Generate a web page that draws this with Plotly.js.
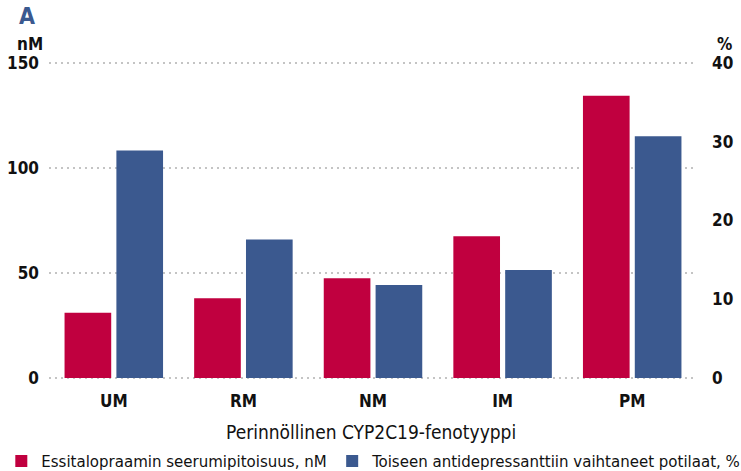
<!DOCTYPE html>
<html>
<head>
<meta charset="utf-8">
<script src="https://cdn.plot.ly/plotly-3.0.1.min.js"></script>
<style>html,body{margin:0;padding:0;background:#fff}#chart{width:741px;height:471px}</style>
</head>
<body>
<div id="chart"></div>
<script>
var categories = ["UM", "RM", "NM", "IM", "PM"];
var serumConc = [31, 38, 47.5, 67.5, 134.5];      // nM, left axis
var switchedPct = [28.9, 17.6, 11.8, 13.7, 30.7]; // %, right axis
var seriesNames = ["Essitalopraamin seerumipitoisuus, nM", "Toiseen antidepressanttiin vaihtaneet potilaat, %"];
var leftTicks = [0, 50, 100, 150];
var rightTicks = [0, 10, 20, 30, 40];

var RED = "#c0003f", BLUE = "#3b598f";
var FONT = "DejaVu Sans Condensed, DejaVu Sans, sans-serif";
var TXT = "#111";

var traces = [
  {type: "bar", x: categories, y: serumConc, name: seriesNames[0], marker: {color: RED}, offsetgroup: "a", yaxis: "y", legend: "legend", hoverinfo: "none"},
  {type: "bar", x: categories, y: switchedPct, name: seriesNames[1], marker: {color: BLUE}, offsetgroup: "b", yaxis: "y2", legend: "legend2", hoverinfo: "none"}
];

var pad = 1;
var legendFont = {family: FONT, size: 16.7, color: TXT};
var tickFont = {family: FONT, size: 17, weight: "bold", color: TXT};
var layout = {
  width: 741, height: 471,
  margin: {l: 49, r: 44, t: 61, b: 91, autoexpand: false},
  paper_bgcolor: "#fff", plot_bgcolor: "#fff",
  barmode: "group", bargap: 0.2, bargroupgap: 0.1,
  font: {family: FONT, color: TXT},
  showlegend: true,
  legend: {orientation: "h", x: -0.0736, xanchor: "left", y: -0.254, yanchor: "middle", font: legendFont, itemwidth: 30, bgcolor: "rgba(0,0,0,0)"},
  legend2: {orientation: "h", x: 0.437, xanchor: "left", y: -0.254, yanchor: "middle", font: legendFont, itemwidth: 30, bgcolor: "rgba(0,0,0,0)"},
  xaxis: {tickvals: categories, ticks: "", showgrid: false, zeroline: false, showline: false,
          tickfont: tickFont, ticklabelstandoff: 9},
  yaxis: {range: [-pad, 150 + pad], tickvals: leftTicks, ticks: "", showgrid: true, gridcolor: "#c4c4c4", griddash: "2px,4px", gridwidth: 2,
          zeroline: false, showline: false, tickfont: tickFont, ticklabelstandoff: 9},
  yaxis2: {range: [-pad * 40 / 150, 40 + pad * 40 / 150], tickvals: rightTicks, overlaying: "y", side: "right", ticks: "", showgrid: false, zeroline: false, showline: false,
           tickfont: tickFont, ticklabelstandoff: 14},
  annotations: [
    {text: "A", xref: "paper", yref: "paper", x: -0.0347, y: 1.1395, xanchor: "center", yanchor: "middle", showarrow: false,
     font: {family: FONT, size: 23, weight: "bold", color: BLUE}},
    {text: "nM", xref: "paper", yref: "paper", x: -0.0293, y: 1.053, xanchor: "center", yanchor: "middle", showarrow: false,
     font: tickFont},
    {text: "%", xref: "paper", yref: "paper", x: 1.043, y: 1.053, xanchor: "center", yanchor: "middle", showarrow: false,
     font: tickFont},
    {text: "Perinnöllinen CYP2C19-fenotyyppi", xref: "paper", yref: "paper", x: 0.497, y: -0.163, xanchor: "center", yanchor: "middle", showarrow: false,
     font: {family: FONT, size: 19, color: TXT}}
  ]
};

Plotly.newPlot("chart", traces, layout, {displayModeBar: false, staticPlot: true});
</script>
</body>
</html>
